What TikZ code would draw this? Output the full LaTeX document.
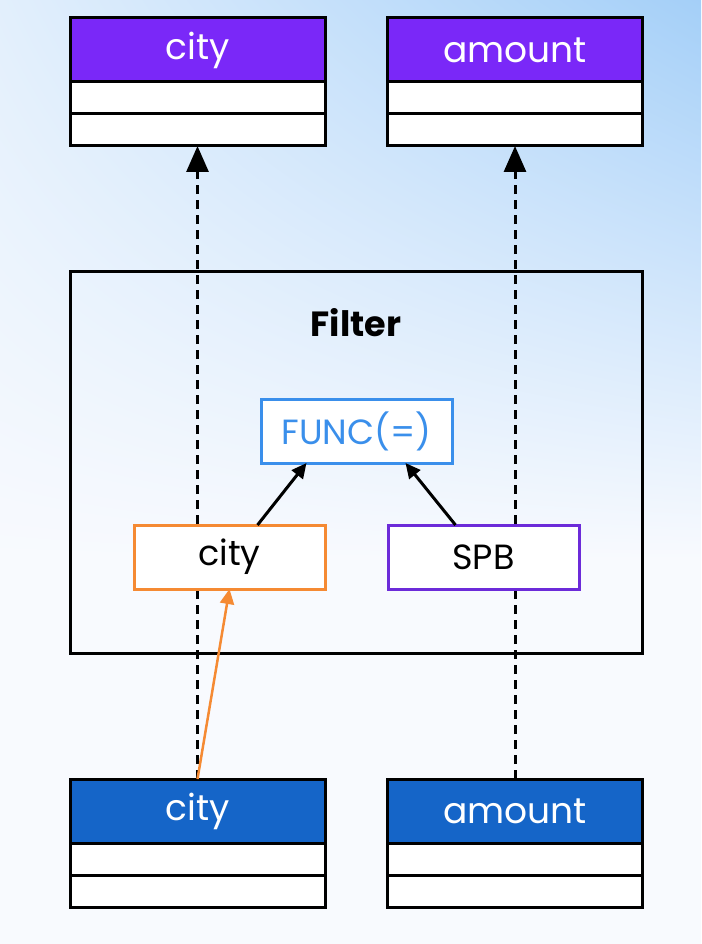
\documentclass[tikz,border=0pt]{standalone}
\usepackage{fontspec}
\setmainfont{Poppins}
\usetikzlibrary{arrows.meta,positioning,shadings}
\pgfdeclarelayer{bglayer}
\pgfdeclarelayer{linelayer}
\pgfsetlayers{bglayer,linelayer,main}
\definecolor{hdrpurple}{RGB}{122,40,248}
\definecolor{hdrblue}{RGB}{21,101,200}
\definecolor{orng}{RGB}{245,138,51}
\definecolor{spbpurple}{RGB}{108,43,217}
\definecolor{funcblue}{RGB}{58,143,235}
\definecolor{bgtl}{RGB}{226,239,252}
\definecolor{bgtr}{RGB}{164,207,248}
\definecolor{bgbot}{RGB}{248,250,254}
\tikzset{
  hdr/.style={draw=black, line width=3pt, outer sep=0pt, minimum width=255pt, minimum height=64pt, inner sep=0pt, text=white, font=\fontsize{36}{36}\selectfont, anchor=north},
  rowbox/.style={draw=black, fill=white, line width=3pt, outer sep=0pt, minimum width=255pt, minimum height=32pt, inner sep=0pt, anchor=north},
  inbox/.style={line width=3pt, outer sep=0pt, fill=white, minimum width=191pt, minimum height=64pt, inner sep=0pt, font=\fontsize{35}{35}\selectfont},
  dashline/.style={line width=3pt, dash pattern=on 9pt off 6pt, -{Triangle[width=22pt,length=26pt]}},
  smallarrow/.style={line width=3pt, -{Triangle[width=14pt,length=15pt]}}
}
\begin{document}
\begin{tikzpicture}[x=1pt,y=-1pt]
\begin{pgfonlayer}{bglayer}
\shade[upper left=bgtl, upper right=bgtr, lower left=bgbot, lower right=bgbot] (0,0) rectangle (701,560);
\fill[bgbot] (0,559) rectangle (701,944);
\end{pgfonlayer}
\useasboundingbox (0,0) rectangle (701,944);
% top tables
\node[hdr, fill=hdrpurple] (tch) at (197.5,18) {city};
\node[rowbox] (tcr1) at (tch.south) {};
\node[rowbox] (tcr2) at (tcr1.south) {};
\node[hdr, fill=hdrpurple] (tah) at (515,18) {amount};
\node[rowbox] (tar1) at (tah.south) {};
\node[rowbox] (tar2) at (tar1.south) {};
% bottom tables
\node[hdr, fill=hdrblue] (bch) at (197.5,779) {city};
\node[rowbox] (bcr1) at (bch.south) {};
\node[rowbox] (bcr2) at (bcr1.south) {};
\node[hdr, fill=hdrblue] (bah) at (515,779) {amount};
\node[rowbox] (bar1) at (bah.south) {};
\node[rowbox] (bar2) at (bar1.south) {};
% filter
\node[draw=black, line width=3pt, outer sep=0pt, minimum width=572pt, minimum height=382pt, inner sep=0pt] (filter) at (356,462) {};
\node[font=\bfseries\fontsize{35}{35}\selectfont] (flabel) at (356,323) {Filter};
\node[inbox, draw=funcblue, text=funcblue] (func) at (356.5,431) {FUNC(=)};
\node[inbox, draw=orng] (fcity) at (229.5,557) {city};
\node[inbox, draw=spbpurple] (spb) at (483.5,557) {SPB};
% connectors
\begin{pgfonlayer}{linelayer}
\draw[dashline] (bch.north) -- (tcr2.south);
\draw[dashline] (bah.north) -- (tar2.south);
\end{pgfonlayer}
\draw[line width=2.5pt, orng, -{Triangle[width=14pt,length=15pt]}] (bch.north) -- (fcity.south);
\draw[smallarrow] ([xshift=28pt]fcity.north) -- ([xshift=-50pt]func.south);
\draw[smallarrow] ([xshift=-28pt]spb.north) -- ([xshift=49pt]func.south);
\end{tikzpicture}
\end{document}
